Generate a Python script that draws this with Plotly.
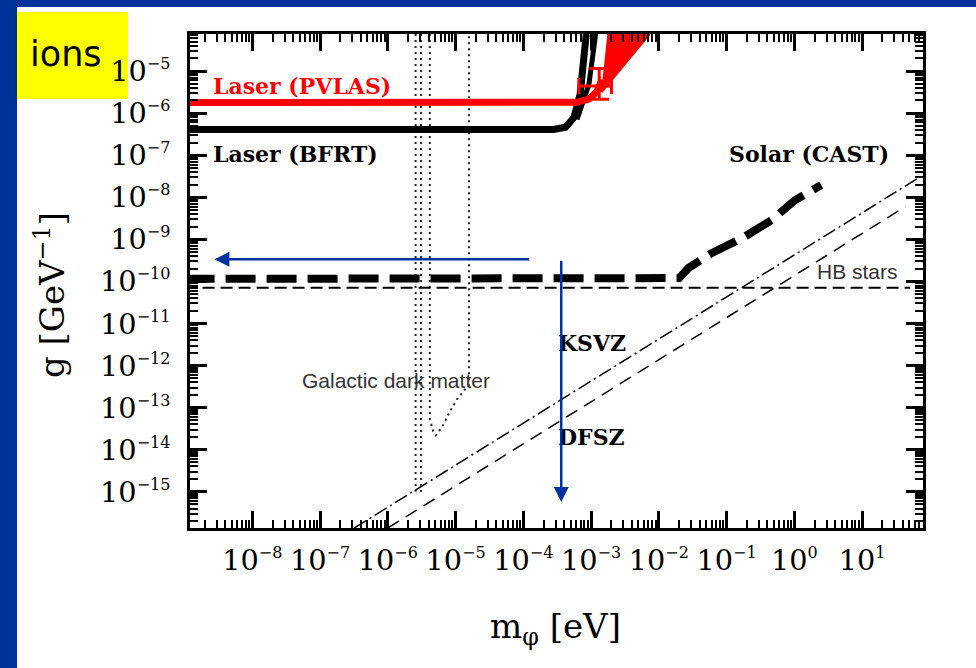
import plotly.graph_objects as go
import math

# ---------------- data ----------------
# Laser (BFRT) exclusion boundary (two strokes)
bfrt_m = [1e-9, 2.8e-4, 4.2e-4, 5.6e-4, 6.9e-4, 7.9e-4, 8.5e-4]
bfrt_g = [4.1e-7, 4.1e-7, 4.6e-7, 7.9e-7, 2.8e-6, 1.9e-5, 7.6e-5]
bfrt2_m = [6.2e-4, 9.3e-4, 1.17e-3]
bfrt2_g = [7.1e-7, 4.8e-6, 7.6e-5]

# Laser (PVLAS) boundary, signal region and signal point
pvlas_m = [1e-9, 6.2e-4, 9.3e-4, 1.23e-3, 1.45e-3]
pvlas_g = [1.78e-6, 1.82e-6, 2.14e-6, 3.3e-6, 6.3e-6]
pvlas_region_m = [1.74e-3, 7.2e-3, 1.41e-3]
pvlas_region_g = [7.6e-5, 7.6e-5, 3.2e-6]
pvlas_pt_m = [1.32e-3]
pvlas_pt_g = [4.4e-6]
pvlas_pt_m_lo = [6.6e-4]
pvlas_pt_m_hi = [2.0e-3]
pvlas_pt_g_lo = [2.14e-6]
pvlas_pt_g_hi = [1.15e-5]

# Solar (CAST)
cast_m = [1e-9, 1.2e-2, 2.0e-2, 2.75e-2, 6.0e-2, 0.17, 0.47, 1.02, 2.5]
cast_g = [1.15e-10, 1.15e-10, 1.2e-10, 2.1e-10, 4.7e-10, 1.07e-9, 2.9e-9, 8.5e-9, 1.95e-8]

# HB stars
hb_m = [1e-9, 51.0]
hb_g = [7.1e-11, 7.1e-11]

# Axion models
ksvz_m = [3.2e-7, 70.8]
ksvz_g = [1.38e-16, 3.0e-8]
dfsz_m = [1.0e-6, 43.6]
dfsz_g = [1.38e-16, 6.0e-9]

# Galactic dark matter (dotted)
dm1_m = [2.57e-6, 2.57e-6]
dm1_g = [7.6e-5, 1.0e-15]
dm2_m = [3.1e-6, 3.1e-6]
dm2_g = [7.6e-5, 1.0e-15]
dm3_m = [4.17e-6, 4.17e-6, 4.68e-6, 5.13e-6, 6.3e-6, 7.9e-6, 1.05e-5, 1.41e-5, 1.58e-5, 1.58e-5]
dm3_g = [7.6e-5, 5.4e-14, 2.75e-14, 2.2e-14, 3.4e-14, 7.1e-14, 1.6e-13, 2.75e-13, 3.5e-13, 7.6e-5]

# decade exponents that carry tick labels
x_exps = [-8, -7, -6, -5, -4, -3, -2, -1, 0, 1]
y_exps = [-15, -14, -13, -12, -11, -10, -9, -8, -7, -6, -5]

x_range_log = [-8.92, 1.90]
y_range_log = [-15.86, -4.12]

# ---------------- figure ----------------
W, H = 976, 668
L, R, T, B = 190, 53, 34, 140
PW, PH = W - L - R, H - T - B

def px2paper_x(px):
    return (px - L) / PW

def px2paper_y(py):
    return (H - B - py) / PH


def plotly_label(e):
    # text that plotly generates for 10**e with exponentformat="power"
    if e == 0:
        return "1"
    if e == 1:
        return "10"
    return "10<sup>" + ("" if e > 1 else "\u2212") + str(abs(e)) + "</sup>"


def wanted_label(e):
    s = ("\u2212" if e < 0 else "") + str(abs(e))
    return "10<sup><span style='font-size:16px'>" + s + "</span></sup>"


x_label_alias = {plotly_label(e): wanted_label(e) for e in x_exps}
y_label_alias = {plotly_label(e): wanted_label(e) for e in y_exps}

fig = go.Figure()

def line(m, g, color="black", width=2, dash="solid"):
    fig.add_trace(go.Scatter(x=m, y=g, mode="lines",
                             line=dict(color=color, width=width, dash=dash),
                             hoverinfo="skip", showlegend=False))

# dark matter dotted lines
line(dm1_m, dm1_g, "#222", 2, "2px,4px")
line(dm2_m, dm2_g, "#222", 2, "2px,4px")
line(dm3_m, dm3_g, "#222", 2, "2px,4px")

# HB stars
line(hb_m, hb_g, "black", 2, "12px,6px")
# KSVZ / DFSZ
line(ksvz_m, ksvz_g, "black", 1.5, "14px,4px,2px,4px")
line(dfsz_m, dfsz_g, "black", 1.5, "13px,8px")
# CAST
line(cast_m, cast_g, "black", 8, "30px,11px")

# BFRT
line(bfrt_m, bfrt_g, "black", 7)
line(bfrt2_m, bfrt2_g, "black", 5)

# PVLAS region
fig.add_trace(go.Scatter(x=pvlas_region_m, y=pvlas_region_g, mode="lines", fill="toself",
                         fillcolor="#ff0000", line=dict(color="#ff0000", width=3),
                         hoverinfo="skip", showlegend=False))
line(pvlas_m, pvlas_g, "#ff0000", 7)
# PVLAS signal point with error bars
fig.add_trace(go.Scatter(
    x=pvlas_pt_m, y=pvlas_pt_g, mode="markers",
    marker=dict(size=1, color="#ff0000"),
    error_x=dict(type="data", symmetric=False,
                 array=[h - c for h, c in zip(pvlas_pt_m_hi, pvlas_pt_m)],
                 arrayminus=[c - l for l, c in zip(pvlas_pt_m_lo, pvlas_pt_m)],
                 color="#ff0000", thickness=3, width=8),
    error_y=dict(type="data", symmetric=False,
                 array=[h - c for h, c in zip(pvlas_pt_g_hi, pvlas_pt_g)],
                 arrayminus=[c - l for l, c in zip(pvlas_pt_g_lo, pvlas_pt_g)],
                 color="#ff0000", thickness=3, width=10),
    hoverinfo="skip", showlegend=False))

tickfont = dict(family="DejaVu Serif", size=23, color="black")
axis_common = dict(type="log", showline=True, linewidth=3, linecolor="black",
                   mirror="allticks", ticks="inside", ticklen=17, tickwidth=2.5,
                   tickcolor="black", showgrid=False, zeroline=False,
                   tickfont=tickfont, tickmode="linear", tick0=0, dtick=1,
                   exponentformat="power", showexponent="all", tickangle=0,
                   minor=dict(ticks="inside", ticklen=8, tickwidth=2, tickcolor="black",
                              dtick="D1", showgrid=False))

fig.update_xaxes(**axis_common, range=x_range_log, ticklabelstandoff=6,
                 labelalias=x_label_alias)
fig.update_yaxes(**axis_common, range=y_range_log, ticklabelstandoff=12,
                 labelalias=y_label_alias)

serif_b = dict(family="DejaVu Serif", size=22, color="black")
sans = dict(family="Liberation Sans", size=21, color="#333")

def label(text, lm, lg, font):
    fig.add_annotation(x=math.log10(lm), y=math.log10(lg), xref="x", yref="y",
                       text=text, showarrow=False, xanchor="left", yanchor="middle",
                       font=font)

label("<b>Laser (PVLAS)</b>", 2.45e-9, 4.4e-6, dict(serif_b, color="#ff0000"))
label("<b>Laser (BFRT)</b>", 2.45e-9, 1.05e-7, serif_b)
label("<b>Solar (CAST)</b>", 1.0e-1, 1.05e-7, serif_b)
label("HB stars", 2.05, 1.7e-10, sans)
label("<b>KSVZ</b>", 3.0e-4, 3.5e-12, serif_b)
label("<b>DFSZ</b>", 3.0e-4, 2.05e-14, serif_b)
label("Galactic dark matter", 5.0e-8, 4.4e-13, sans)

# blue arrows
arrow_col = "#0033a0"
fig.add_annotation(x=-8.56, y=-9.475, ax=-3.89, ay=-9.475, xref="x", yref="y",
                   axref="x", ayref="y", text="", showarrow=True, arrowhead=2,
                   arrowsize=1.2, arrowwidth=2.5, arrowcolor=arrow_col, standoff=0)
fig.add_annotation(x=-3.44, y=-15.24, ax=-3.44, ay=-9.475, xref="x", yref="y",
                   axref="x", ayref="y", text="", showarrow=True, arrowhead=2,
                   arrowsize=1.2, arrowwidth=2.5, arrowcolor=arrow_col, standoff=0)

# axis titles
fig.add_annotation(x=px2paper_x(50), y=px2paper_y(295), xref="paper", yref="paper",
                   xanchor="center", yanchor="middle",
                   text="g [GeV<sup>−1</sup>]", textangle=-90, showarrow=False,
                   font=dict(family="DejaVu Serif", size=34, color="black"))
fig.add_annotation(x=px2paper_x(555), y=px2paper_y(628), xref="paper", yref="paper",
                   xanchor="center", yanchor="middle",
                   text="m<sub>φ</sub> [eV]", showarrow=False,
                   font=dict(family="DejaVu Serif", size=34, color="black"))

# page frame: blue border, white panel, yellow title box
fig.add_shape(type="rect", xref="paper", yref="paper",
              x0=px2paper_x(17), x1=px2paper_x(980), y0=px2paper_y(672), y1=px2paper_y(7),
              fillcolor="white", line=dict(width=0), layer="below")
fig.add_shape(type="rect", xref="paper", yref="paper",
              x0=px2paper_x(17), x1=px2paper_x(128), y0=px2paper_y(99), y1=px2paper_y(12),
              fillcolor="#ffff00", line=dict(width=0), layer="below")
fig.add_annotation(x=px2paper_x(104), y=px2paper_y(54), xref="paper", yref="paper",
                   text="ions", showarrow=False, xanchor="right", yanchor="middle",
                   font=dict(family="DejaVu Sans", size=35, color="black"))

fig.update_layout(width=W, height=H, margin=dict(l=L, r=R, t=T, b=B),
                  paper_bgcolor="#003399", plot_bgcolor="white",
                  showlegend=False, hovermode=False)

fig.write_html("out.html", config={"displayModeBar": False},
               post_script="document.body.style.margin='0px';"
                           "document.body.style.backgroundColor='#003399';")
